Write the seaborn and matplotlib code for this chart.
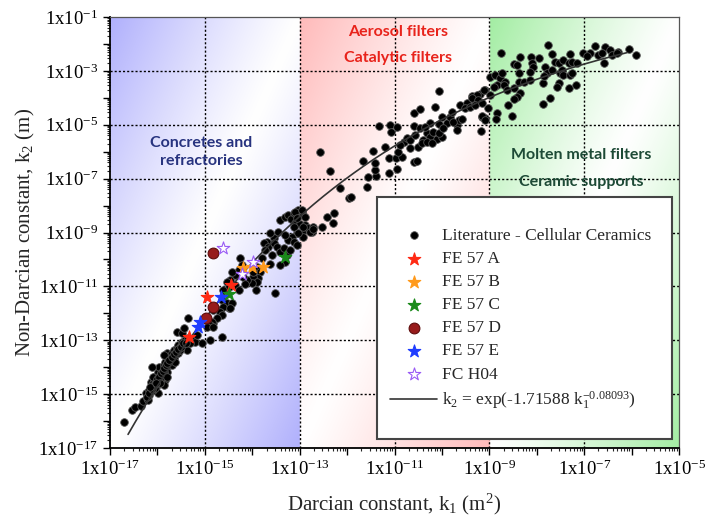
import numpy as np
import matplotlib
matplotlib.use('Agg')
import matplotlib.pyplot as plt
import seaborn as sns
from matplotlib.ticker import LogLocator, FuncFormatter, NullFormatter
from matplotlib.patches import Rectangle

# literature points, log10(k1) / log10(k2)
lit_low_k1 = [-16.70, -16.54, -16.47, -16.35, -16.30, -16.23, -16.24, -16.17, -16.12, -16.14,
              -16.09, -16.05, -16.02, -16.10, -15.98, -15.95, -15.91, -15.96, -15.87, -15.84,
              -15.80, -15.77, -15.73, -15.79, -15.70, -15.66, -15.63, -15.59, -15.56, -15.52,
              -15.49, -15.42, -15.45, -15.38, -15.84, -15.87, -16.02, -15.98, -16.19, -16.12,
              -15.87, -15.59, -15.49, -15.24, -15.21, -14.89, -14.64, -14.50, -14.68, -14.82,
              -14.96, -15.16, -15.07, -16.09, -15.95, -16.05, -15.91, -16.17, -15.73, -15.66,
              -15.56, -15.80, -15.87, -15.70, -15.63, -15.52, -15.31, -15.35,
              -16.21, -16.17, -16.12, -16.07, -16.03, -16.00, -15.96, -15.93, -15.89, -15.86,
              -15.82, -15.79, -15.75, -15.70, -15.65, -15.61, -15.56, -15.51, -15.47, -15.40,
              -15.95, -15.80, -16.16, -16.02]
lit_low_k2 = [-16.05, -15.59, -15.49, -15.44, -15.24, -15.16, -14.97, -14.85, -14.72, -14.54,
              -14.60, -14.45, -14.33, -14.38, -14.17, -14.29, -14.04, -13.98, -13.92, -13.79,
              -13.98, -13.71, -13.61, -13.49, -13.49, -13.36, -13.55, -13.30, -13.18, -13.24,
              -13.05, -12.99, -13.18, -13.36, -14.48, -14.66, -14.72, -14.97, -15.22, -13.98,
              -13.55, -12.68, -12.74, -12.97, -13.05, -12.99, -12.87, -11.82, -11.88, -12.37,
              -12.19, -12.81, -13.11, -14.85, -14.48, -14.79, -14.35, -15.03, -13.79, -13.67,
              -13.49, -14.17, -14.17, -13.92, -13.79, -13.36, -13.11, -12.93,
              -15.09, -14.95, -14.82, -14.66, -14.54, -14.45, -14.35, -14.23, -14.13, -14.04,
              -13.92, -13.83, -13.73, -13.63, -13.52, -13.42, -13.34, -13.24, -13.11, -13.11,
              -14.60, -14.35, -14.75, -14.60]

lit_mid_k1 = [-13.41, -13.31, -13.24, -13.19, -13.12, -13.03, -12.96, -12.92, -13.10, -12.99,
              -12.89, -12.82, -12.75, -12.71, -12.96, -13.06, -13.17, -13.24, -13.31, -13.45,
              -13.55, -13.62, -13.69, -13.76, -13.66, -13.73, -13.55, -13.48, -13.41, -13.34,
              -13.27, -13.20, -13.13, -13.06, -12.92, -13.31, -13.41, -13.59, -13.62, -13.80,
              -13.89, -13.84, -13.87, -13.98, -13.98, -13.90, -14.01, -14.12, -14.19, -14.26,
              -14.22, -14.29, -14.36, -14.43, -14.47, -14.54, -14.50, -14.61, -14.36, -14.29,
              -14.64, -14.54, -14.61, -14.43, -14.68, -14.64, -14.47, -14.82, -14.75, -14.85,
              -14.89, -14.96, -14.82, -12.43, -12.27, -12.30, -12.53, -13.52, -13.92, -14.15,
              -15.35, -15.45]
lit_mid_k2 = [-8.54, -8.41, -8.35, -8.51, -8.29, -8.17, -8.23, -8.35, -8.66, -8.69,
              -8.72, -8.85, -8.97, -8.78, -8.97, -9.03, -9.16, -9.28, -9.09, -8.97,
              -9.22, -9.03, -9.34, -9.40, -9.53, -9.65, -9.40, -9.53, -9.71, -9.59,
              -9.84, -9.65, -9.34, -9.46, -9.16, -10.08, -10.21, -9.84, -10.15, -9.96,
              -10.27, -10.45, -10.70, -10.64, -10.45, -10.83, -10.89, -10.76, -10.64, -9.96,
              -10.21, -10.39, -10.58, -10.45, -10.76, -10.83, -11.01, -11.13, -10.95, -11.13,
              -11.51, -11.63, -11.75, -11.63, -11.94, -12.06, -11.82, -11.88, -12.19, -12.31,
              -12.43, -12.50, -12.50, -8.44, -8.29, -8.64, -8.81, -11.23, -11.13, -10.92,
              -12.19, -12.56]

lit_upper_k1 = [-12.57, -12.37, -12.15, -11.95, -11.92, -11.59, -11.57, -11.39, -11.41, -11.41,
                -11.66, -11.45, -11.11, -10.94, -11.11, -10.97, -10.85, -11.20, -10.92, -10.60,
                -10.53, -11.32, -11.09, -11.08, -10.95, -10.81, -10.74, -10.67, -10.57, -10.50,
                -10.39, -10.32, -10.25, -10.18, -10.11, -10.00, -10.25, -10.07, -9.90, -9.83,
                -9.79, -9.69, -9.65, -9.58, -10.60, -10.59, -10.46, -10.14, -10.07, -9.69,
                -9.62, -9.48, -9.37, -9.30, -9.19, -9.09, -9.16, -9.09, -9.18, -9.51,
                -9.41, -10.88, -10.67, -10.43, -10.32, -10.21, -10.07, -9.97, -10.46, -10.35,
                -10.00, -9.76, -13.10, -12.96, -12.89, -13.06, -13.13, -12.92, -12.78, -13.03,
                -12.71]
lit_upper_k2 = [-6.00, -6.71, -7.36, -7.73, -7.67, -7.32, -6.95, -6.90, -6.68, -6.43,
                -6.33, -5.96, -6.78, -6.66, -6.25, -6.25, -6.21, -5.84, -6.00, -6.37,
                -6.33, -5.05, -4.99, -5.26, -5.10, -5.63, -5.50, -5.57, -5.38, -5.81,
                -5.57, -5.32, -5.44, -5.26, -5.51, -5.44, -4.95, -4.97, -4.95, -4.70,
                -4.52, -5.01, -4.83, -4.80, -5.05, -4.55, -4.43, -4.33, -3.74, -5.20,
                -4.27, -4.21, -3.93, -4.21, -3.84, -3.71, -4.70, -4.76, -5.22, -4.39,
                -4.33, -5.75, -5.88, -5.69, -5.63, -5.69, -5.32, -5.13, -5.13, -5.07,
                -4.70, -4.89, -8.23, -8.17, -8.41, -8.47, -8.78, -8.78, -8.97, -9.03,
                -8.88]

lit_top_k1 = [-7.77, -8.76, -8.36, -8.12, -7.95, -7.68, -7.30, -7.03, -6.87, -6.77,
              -6.56, -6.45, -6.28, -6.06, -5.90, -8.49, -8.42, -8.10, -8.07, -7.82,
              -7.61, -7.54, -7.44, -7.33, -7.26, -7.16, -6.94, -6.70, -6.59, -6.42,
              -6.31, -8.38, -8.15, -7.79, -7.68, -7.51, -7.47, -8.98, -8.88, -8.77,
              -8.74, -8.67, -8.84, -8.91, -8.70, -8.38, -8.28, -8.14, -7.87, -7.84,
              -7.44, -7.30, -7.26, -7.54, -7.58, -7.33, -7.17, -9.12, -9.26, -8.98,
              -8.63, -8.49, -8.35, -8.42, -8.48, -7.73, -7.86, -8.60, -8.53, -9.02,
              -8.84, -8.86, -9.16, -9.09, -9.37, -9.23, -9.30, -9.16, -6.63]
lit_top_k2 = [-2.02, -2.35, -2.50, -2.47, -2.51, -2.39, -2.39, -2.33, -2.35, -2.08,
              -2.10, -2.23, -2.31, -2.20, -2.42, -2.76, -2.78, -2.72, -2.85, -2.85,
              -2.66, -2.72, -2.60, -2.70, -2.66, -2.72, -2.45, -2.41, -2.70, -2.41,
              -2.35, -3.09, -3.03, -3.09, -2.97, -3.09, -2.97, -3.22, -3.15, -3.28,
              -3.09, -3.40, -3.53, -3.59, -3.53, -3.40, -3.40, -3.34, -3.44, -3.19,
              -3.15, -3.15, -3.09, -3.46, -3.59, -3.65, -3.53, -3.71, -3.90, -3.90,
              -3.71, -3.65, -3.81, -3.98, -4.06, -4.02, -4.23, -4.27, -4.68, -4.39,
              -4.58, -4.79, -4.68, -4.82, -4.02, -4.08, -4.27, -4.21, -2.35]

# foams measured in this work (log10 values)
fe57a_k1 = [-15.33, -14.96, -14.45]
fe57a_k2 = [-12.87, -11.41, -10.95]
fe57b_k1 = [-14.20, -14.00, -13.78]
fe57b_k2 = [-10.33, -10.29, -10.27]
fe57c_k1 = [-14.50, -13.31]
fe57c_k2 = [-11.29, -9.92]
fe57d_k1 = [-14.97, -14.83, -14.82]
fe57d_k2 = [-12.16, -11.78, -9.77]
fe57e_k1 = [-15.14, -15.10, -14.66]
fe57e_k2 = [-12.52, -12.31, -11.41]
fch04_k1 = [-14.61, -14.22, -13.98]
fch04_k2 = [-9.59, -10.54, -10.08]

# fitted correlation k2 = exp(a * k1^b)
fit_a = -1.71588
fit_b = -0.08093
fit_k1_span = (2.4e-17, 8e-7)

x_label_exps = [-17, -15, -13, -11, -9, -7, -5]
y_label_exps = [-17, -15, -13, -11, -9, -7, -5, -3, -1]

sns.set_style('ticks')
plt.rcParams['font.family'] = ['Liberation Serif', 'DejaVu Serif']
plt.rcParams['mathtext.fontset'] = 'custom'
plt.rcParams['mathtext.rm'] = 'Liberation Serif'
plt.rcParams['mathtext.it'] = 'Liberation Serif:italic'

fig = plt.figure(figsize=(7.08, 5.24), dpi=100)
pos = [0.1554, 0.145, 0.8037, 0.8225]

# shaded application ranges (diagonal reflected gradients)
bg = fig.add_axes(pos, zorder=0)
band_cols = [(0.69, 0.69, 0.99), (1.0, 0.73, 0.73), (0.64, 0.93, 0.64)]
ny, nb = 400, 150
v = np.linspace(1, 0, ny)[:, None]
u = np.linspace(0, 1, nb)[None, :]
t = np.abs(u - v) ** 1.15
bands = []
for c in band_cols:
    rgb = np.stack([1 - t * (1 - c[k]) for k in range(3)], axis=-1)
    bands.append(rgb)
img = np.concatenate(bands, axis=1)
bg.imshow(img, extent=(0, 1, 0, 1), aspect='auto', interpolation='bilinear')
bg.set_axis_off()

ax = fig.add_axes(pos, zorder=1)
ax.patch.set_alpha(0)
ax.set_xscale('log')
ax.set_yscale('log')

lit_k1 = 10.0 ** np.array(lit_low_k1 + lit_mid_k1 + lit_upper_k1 + lit_top_k1)
lit_k2 = 10.0 ** np.array(lit_low_k2 + lit_mid_k2 + lit_upper_k2 + lit_top_k2)

sns.scatterplot(x=lit_k1, y=lit_k2, ax=ax, color='black', s=30, edgecolor='#555555',
                linewidth=0.6, label='Literature - Cellular Ceramics', zorder=3)

fit_k1 = np.logspace(np.log10(fit_k1_span[0]), np.log10(fit_k1_span[1]), 200)
fit_k2 = np.exp(fit_a * fit_k1 ** fit_b)
sns.lineplot(x=fit_k1, y=fit_k2, ax=ax, color='#333333', lw=1.2,
             label=r'k$_2$ = exp(-1.71588 k$_1^{-0.08093}$)', zorder=4)

series = [
    (fe57a_k1, fe57a_k2, 'FE 57 A', '*', '#ff2a14', '#ff2a14', 90),
    (fe57b_k1, fe57b_k2, 'FE 57 B', '*', '#ff9a1c', '#ff9a1c', 90),
    (fe57c_k1, fe57c_k2, 'FE 57 C', '*', '#1b8a1b', '#1b8a1b', 90),
    (fe57d_k1, fe57d_k2, 'FE 57 D', 'o', '#971b1b', '#5e0c0c', 60),
    (fe57e_k1, fe57e_k2, 'FE 57 E', '*', '#1f3dff', '#1f3dff', 90),
    (fch04_k1, fch04_k2, 'FC H04', '*', 'white', '#9a5cf5', 90),
]
for k1, k2, lab, mk, fc, ec, sz in series:
    sns.scatterplot(x=10.0 ** np.array(k1), y=10.0 ** np.array(k2), ax=ax, marker=mk,
                    color=fc, edgecolor=ec, linewidth=0.8, s=sz, label=lab, zorder=4.5)

ax.set_xlim(1e-17, 1e-5)
ax.set_ylim(1e-17, 1e-1)

# dotted grid every two decades
for e in x_label_exps[1:-1]:
    ax.axvline(10.0 ** e, color='black', lw=1.0, ls=(0, (1.5, 1.5)), zorder=2)
for e in y_label_exps[1:-1]:
    ax.axhline(10.0 ** e, color='black', lw=1.0, ls=(0, (1.5, 1.5)), zorder=2)


def sci_label(val, pos):
    e = int(round(np.log10(val)))
    return r'$\mathregular{1x10^{%d}}$' % e if e % 2 else ''


for axis in (ax.xaxis, ax.yaxis):
    axis.set_major_locator(LogLocator(base=10, numticks=30))
    axis.set_minor_locator(LogLocator(base=10, subs=np.arange(2, 10), numticks=300))
    axis.set_major_formatter(FuncFormatter(sci_label))
    axis.set_minor_formatter(NullFormatter())
ax.tick_params(which='major', direction='out', length=5, width=1, labelsize=13.5,
               top=False, right=False, colors='black')
ax.tick_params(which='minor', direction='out', length=2.5, width=0.8, top=False, right=False)

for s in ('left', 'bottom'):
    ax.spines[s].set_color('black')
    ax.spines[s].set_linewidth(1.3)
for s in ('top', 'right'):
    ax.spines[s].set_color('#555555')
    ax.spines[s].set_linewidth(0.9)

ax.set_xlabel(r'Darcian constant, k$_1$ (m$^2$)', fontsize=15, labelpad=9)
ax.set_ylabel(r'Non-Darcian constant, k$_2$ (m)', fontsize=15, labelpad=1)

# application labels
ax.text(0.160, 0.687, 'Concretes and\nrefractories', transform=ax.transAxes, ha='center',
        va='center', color='#27337f', fontsize=11.5, fontweight='bold', family='Lato',
        linespacing=1.4, zorder=5)
ax.text(0.506, 0.965, 'Aerosol filters', transform=ax.transAxes, ha='center', va='center',
        color='#e8231b', fontsize=11.5, fontweight='bold', family='Lato', zorder=5)
ax.text(0.506, 0.905, 'Catalytic filters', transform=ax.transAxes, ha='center', va='center',
        color='#e8231b', fontsize=11.5, fontweight='bold', family='Lato', zorder=5)
ax.text(0.828, 0.680, 'Molten metal filters', transform=ax.transAxes, ha='center', va='center',
        color='#1d4a36', fontsize=11.5, fontweight='bold', family='Lato', zorder=5)
ax.text(0.828, 0.617, 'Ceramic supports', transform=ax.transAxes, ha='center', va='center',
        color='#1d4a36', fontsize=11.5, fontweight='bold', family='Lato', zorder=5)

# legend box
ax.add_patch(Rectangle((0.469, 0.021), 0.519, 0.561, transform=ax.transAxes,
                       facecolor='white', edgecolor='#444444', lw=1.5, zorder=6))
handles, labels = ax.get_legend_handles_labels()
order = [0, 2, 3, 4, 5, 6, 7, 1]
leg = ax.legend([handles[i] for i in order], [labels[i] for i in order],
                loc='upper left', bbox_to_anchor=(0.48, 0.527), frameon=False,
                fontsize=12.5, labelspacing=0.4, handlelength=2.7, handletextpad=0.3,
                borderaxespad=0)
leg.set_zorder(7)

fig.savefig('out.png', dpi=100)
